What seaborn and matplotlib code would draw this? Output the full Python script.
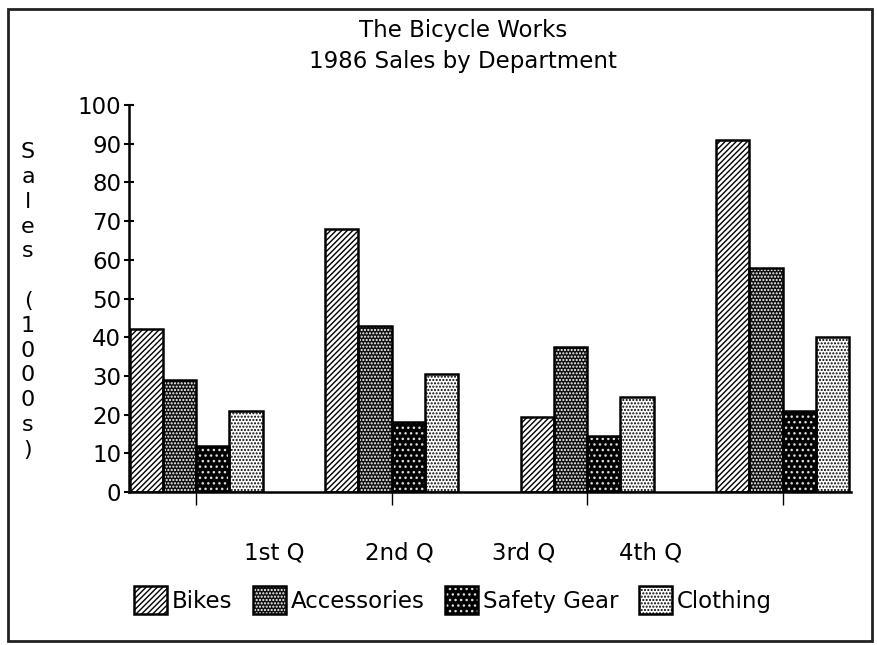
import matplotlib
matplotlib.use("Agg")
import matplotlib.pyplot as plt
import matplotlib.patches as mpatches
import seaborn as sns
import pandas as pd

# Quarterly sales per department, in thousands of dollars
quarters = ["1st Q", "2nd Q", "3rd Q", "4th Q"]
departments = ["Bikes", "Accessories", "Safety Gear", "Clothing"]
bikes = [42, 68, 19.5, 91]
accessories = [29, 43, 37.5, 58]
safety_gear = [12, 18, 14.5, 21]
clothing = [21, 30.5, 24.5, 40]
y_ticks = [0, 10, 20, 30, 40, 50, 60, 70, 80, 90, 100]

sns.set_theme(style="white")
plt.rcParams["font.family"] = ["DejaVu Sans"]
plt.rcParams["hatch.linewidth"] = 1.0

df = pd.DataFrame({
    "quarter": quarters * 4,
    "department": sum([[d] * 4 for d in departments], []),
    "sales": bikes + accessories + safety_gear + clothing,
})

# fill colour, hatch pattern and hatch colour for each department
styles = {
    "Bikes":       dict(face="white",   hatch="//////",  hcolor="black"),
    "Accessories": dict(face="#111111", hatch=".....",   hcolor="white"),
    "Safety Gear": dict(face="black",   hatch="...",     hcolor="#dddddd"),
    "Clothing":    dict(face="white",   hatch=".....",   hcolor="black"),
}

W, H = 877, 645
fig = plt.figure(figsize=(W / 100, H / 100), dpi=100)
ax = fig.add_axes([129 / W, 1 - 492 / H, (851 - 129) / W, (492 - 105) / H])

palette = {d: styles[d]["face"] for d in departments}
bw = 0.68
sns.barplot(data=df, x="quarter", y="sales", hue="department",
            hue_order=departments, order=quarters, palette=palette,
            width=bw, gap=0, saturation=1, legend=False, ax=ax,
            linewidth=0)
# hatch each bar; hatch colour follows the edge colour
n_q = len(quarters)
for i, dep in enumerate(departments):
    st = styles[dep]
    for p in ax.patches[i * n_q:(i + 1) * n_q]:
        p.set_hatch(st["hatch"])
        p.set_edgecolor(st["hcolor"])
        p.set_linewidth(0)
# black outlines on top
sns.barplot(data=df, x="quarter", y="sales", hue="department",
            hue_order=departments, order=quarters, fill=False,
            palette={d: "black" for d in departments},
            width=bw, gap=0, legend=False, ax=ax, linewidth=1.8)

ax.set_xlim(-0.343, 3.35)
ax.set_ylim(0, 100)
ax.set_yticks(y_ticks)
ax.set_yticklabels([str(t) for t in y_ticks], fontsize=16.5, color="black")
ax.set_xticks(range(n_q))
ax.set_xticklabels([])
ax.set_xlabel("")
ax.set_ylabel("")
ax.tick_params(axis="y", direction="inout", length=7, width=1.5, pad=2,
               left=True, colors="black")
ax.tick_params(axis="x", direction="out", length=9, width=1, bottom=True,
               colors="black")
for s in ["top", "right"]:
    ax.spines[s].set_visible(False)
for s in ["left", "bottom"]:
    ax.spines[s].set_color("black")
    ax.spines[s].set_linewidth(1.8)

# title
fig.text(463 / W, 1 - 46 / H, "The Bicycle Works\n1986 Sales by Department",
         ha="center", va="center", fontsize=16.5, linespacing=1.45,
         color="black")

# stacked vertical axis label
ylabel = "Sales (1000s)"
fig.text(28 / W, 1 - 301 / H, "\n".join(ylabel), ha="center", va="center",
         fontsize=16, linespacing=1.3, color="black")

# quarter names row
q_x = [274, 399, 524, 651]
for q, x in zip(quarters, q_x):
    fig.text(x / W, 1 - 553 / H, q, ha="center", va="center",
             fontsize=16.5, color="black")

# legend
handles = [mpatches.Patch(facecolor=styles[d]["face"], hatch=styles[d]["hatch"],
                          edgecolor=styles[d]["hcolor"], linewidth=0)
           for d in departments]
outline = [mpatches.Patch(facecolor="none", edgecolor="black", linewidth=1.8)
           for d in departments]
fig.legend([(h, o) for h, o in zip(handles, outline)], departments,
           loc="center", bbox_to_anchor=(453 / W, 1 - 600 / H), ncol=4,
           frameon=False, fontsize=16.5, handlelength=1.45, handleheight=1.5,
           handletextpad=0.2, columnspacing=0.9, borderpad=0,
           labelcolor="black")

# page border
fig.patches.append(mpatches.Rectangle((8 / W, 1 - 641 / H), (872 - 8) / W,
                                      (641 - 9) / H, transform=fig.transFigure,
                                      fill=False, edgecolor="#222222",
                                      linewidth=2))

fig.savefig("out.png", dpi=100)
